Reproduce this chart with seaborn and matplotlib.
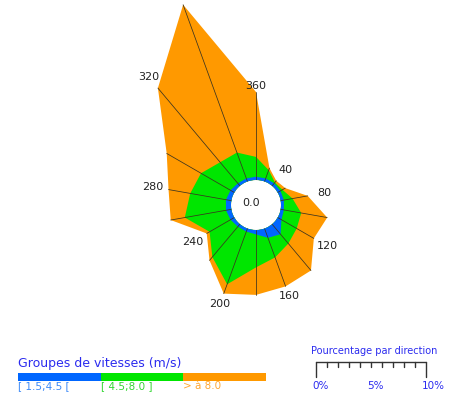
"""
Wind rose: percentage of wind per direction and speed group
"""

import numpy as np
import matplotlib
matplotlib.use("Agg")
import matplotlib.pyplot as plt
import seaborn as sns

# wind directions (deg) and percentage for each speed group
directions = np.arange(0, 360, 20)
pct_low = [0.3, 0.3, 0.3, 0.3, 0.3, 0.3, 0.4, 1.2, 0.9, 0.4, 0.3, 0.3, 0.4, 0.5, 0.5, 0.4, 0.3, 0.3]
pct_mid = [1.8, 0.8, 0.1, 0.2, 0.8, 1.6, 1.6, 1.1, 1.9, 3.0, 5.1, 3.6, 2.2, 3.8, 3.3, 3.1, 2.5, 2.5]
pct_high = [5.9, 0.2, 0.2, 0.3, 1.4, 2.4, 1.8, 3.2, 2.8, 2.5, 0.9, 0.4, 0.3, 1.3, 2.0, 3.6, 8.8, 14.3]
calm_pct = "0.0"

group_labels = ["[ 1.5;4.5 [", "[ 4.5;8.0 ]", "> à 8.0"]
group_colors = ["#0066ff", "#00e600", "#ff9900"]
label_colors = ["#3d8af7", "#33d633", "#ffa733"]
label_dirs = [40, 80, 120, 160, 200, 240, 280, 320, 360]
scale_pcts = [0, 5, 10]

sns.set_theme(style="white")
plt.rcParams["font.family"] = ["DejaVu Sans"]
palette = sns.color_palette(group_colors)

W, H = 460, 400
PX = 11.0          # pixels per percent
R0 = 25.0          # radius of the calm circle in pixels
CX, CY = 256, 205  # rose centre in pixels
RMAX = 19.0

fig = plt.figure(figsize=(W / 100, H / 100), dpi=100)
rad = (RMAX + R0 / PX) * PX
ax = fig.add_axes([(CX - rad) / W, (H - CY - rad) / H, 2 * rad / W, 2 * rad / H],
                  projection="polar")
ax.set_theta_zero_location("N")
ax.set_theta_direction(-1)
ax.set_rorigin(-R0 / PX)
ax.set_ylim(0, RMAX)
ax.axis("off")

cum_low = np.array(pct_low)
cum_mid = cum_low + np.array(pct_mid)
cum_high = cum_mid + np.array(pct_high)

theta = np.deg2rad(np.append(directions, directions[0]))
for cum, col in zip([cum_high, cum_mid, cum_low], palette[::-1]):
    ax.fill(theta, np.append(cum, cum[0]), color=col, lw=0)

# radial lines
for d, r in zip(directions, cum_high):
    t = np.deg2rad(d)
    ax.plot([t, t], [0, r], color="#3a3320", lw=0.55)

ax.text(0.49, 0.505, calm_pct, transform=ax.transAxes, ha="center", va="center",
        fontsize=8, color="#222222")

for d in label_dirs:
    r = cum_high[list(directions).index(d % 360)]
    t = np.deg2rad(d)
    off = (2 + 4 * abs(np.cos(t)) + 14 * abs(np.sin(t))) * 0.72  # px -> points
    ax.annotate(str(d), xy=(t, r), xytext=(off * np.sin(t), off * np.cos(t)),
                textcoords="offset points", ha="center", va="center",
                fontsize=8, color="#222222")

# legend area in pixel coordinates
lax = fig.add_axes([0, 0, 1, 1])
lax.set_xlim(0, W)
lax.set_ylim(H, 0)
lax.axis("off")

lax.text(18, 364, "Groupes de vitesses (m/s)", fontsize=9, color="#2b2bef",
         va="center")
bar_w = 82.7
for i, (lab, col, lcol) in enumerate(zip(group_labels, palette, label_colors)):
    lax.barh(377, bar_w, left=18 + i * bar_w, height=8, color=col, lw=0)
    lax.text(18 + i * bar_w, 386, lab, fontsize=7.5, color=lcol, va="center")

x0, y0 = 316, 362
lax.text(311, 351, "Pourcentage par direction", fontsize=7, color="#2b2bef",
         va="center")
lax.plot([x0, x0 + 10 * PX], [y0, y0], color="#333333", lw=1)
for p in range(11):
    length = 15 if p in (0, 10) else 5
    lax.plot([x0 + p * PX, x0 + p * PX], [y0, y0 + length], color="#333333", lw=1)
for p in scale_pcts:
    lax.text(x0 + p * PX - 4, 386, f"{p}%", fontsize=7.5, color="#2b2bef",
             va="center", ha="left")

fig.savefig("out.png", dpi=100)
